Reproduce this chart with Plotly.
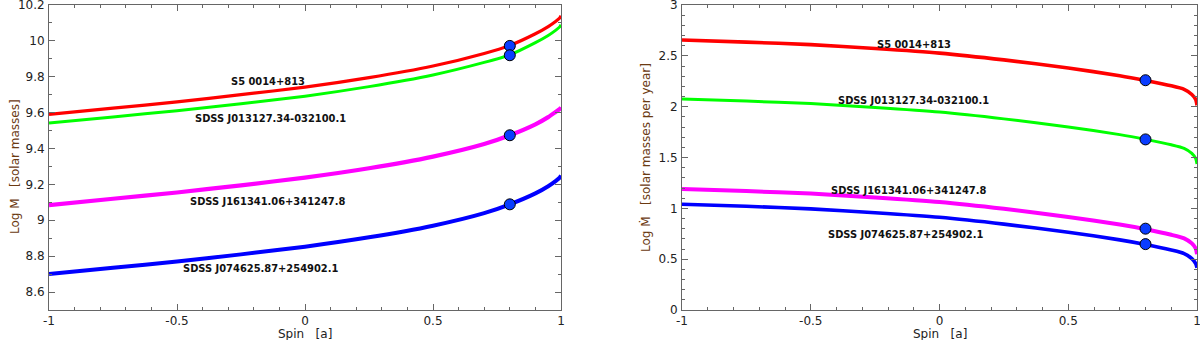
import plotly.graph_objects as go

# ---------------- data ----------------
spin = [-1.0, -0.75, -0.5, -0.25, 0.0, 0.25, 0.5, 0.7, 0.8, 0.9, 0.95, 0.98, 0.995, 1.0]

names = ["S5 0014+813", "SDSS J013127.34-032100.1",
         "SDSS J161341.06+341247.8", "SDSS J074625.87+254902.1"]
colors = ["#ff0000", "#00ff00", "#ff00ff", "#0000ff"]

# Left panel: Log M [solar masses]
mass_s5    = [9.590, 9.625, 9.660, 9.700, 9.742, 9.795, 9.860, 9.930, 9.975, 10.040, 10.080, 10.110, 10.128, 10.140]
mass_j0131 = [9.542, 9.576, 9.611, 9.650, 9.692, 9.745, 9.810, 9.880, 9.922, 9.990, 10.030, 10.060, 10.078, 10.090]
mass_j1613 = [9.085, 9.120, 9.155, 9.195, 9.238, 9.290, 9.355, 9.425, 9.474, 9.535, 9.575, 9.605, 9.620, 9.630]
mass_j0746 = [8.700, 8.735, 8.770, 8.810, 8.853, 8.905, 8.970, 9.040, 9.089, 9.150, 9.190, 9.220, 9.238, 9.250]
mass_series = [mass_s5, mass_j0131, mass_j1613, mass_j0746]

# Right panel: Log Mdot [solar masses per year]
mdot_s5    = [2.655, 2.635, 2.610, 2.572, 2.527, 2.460, 2.380, 2.305, 2.258, 2.205, 2.170, 2.120, 2.070, 2.013]
mdot_j0131 = [2.075, 2.055, 2.030, 1.992, 1.947, 1.880, 1.800, 1.725, 1.678, 1.625, 1.590, 1.540, 1.490, 1.435]
mdot_j1613 = [1.190, 1.170, 1.145, 1.107, 1.062, 0.995, 0.915, 0.840, 0.795, 0.740, 0.705, 0.655, 0.605, 0.548]
mdot_j0746 = [1.040, 1.020, 0.995, 0.957, 0.912, 0.845, 0.765, 0.690, 0.645, 0.590, 0.555, 0.505, 0.455, 0.415]
mdot_series = [mdot_s5, mdot_j0131, mdot_j1613, mdot_j0746]

# Observed points (spin = 0.8)
dot_spin = [0.8, 0.8, 0.8, 0.8]
dot_mass = [9.972, 9.920, 9.474, 9.089]
dot_mdot = [2.260, 1.678, 0.800, 0.648]

# label positions (spin, value)
lab_mass_x = [-0.145, -0.133, -0.148, -0.172]
lab_mass_y = [9.776, 9.568, 9.104, 8.732]
lab_mdot_x = [-0.099, -0.100, -0.121, -0.133]
lab_mdot_y = [2.612, 2.056, 1.174, 0.747]

mass_ticks = [8.6, 8.8, 9.0, 9.2, 9.4, 9.6, 9.8, 10.0, 10.2]
mass_ticktext = ["8.6", "8.8", "9", "9.2", "9.4", "9.6", "9.8", "10", "10.2"]
mdot_ticks = [0, 0.5, 1, 1.5, 2, 2.5, 3]
mdot_ticktext = ["0", "0.5", "1", "1.5", "2", "2.5", "3"]
spin_ticks = [-1, -0.5, 0, 0.5, 1]
spin_ticktext = ["-1", "-0.5", "0", "0.5", "1"]

# ---------------- figure ----------------
W, H = 1200, 340
ML, MR, MT, MB = 0, 0, 5, 30

def px_x(sx):
    return (sx - ML) / (W - ML - MR)

def px_y(sy):
    return 1 - (sy - MT) / (H - MT - MB)

fig = go.Figure()
widths = [3.2, 3.0, 4.2, 4.0]
widths_r = [3.6, 3.0, 4.0, 3.6]

for s, c, w in zip(mass_series, colors, widths):
    fig.add_trace(go.Scatter(x=spin, y=s, mode="lines", xaxis="x", yaxis="y",
                             line=dict(color=c, width=w, shape="spline", smoothing=0.6),
                             showlegend=False, hoverinfo="skip"))
for s, c, w in zip(mdot_series, colors, widths_r):
    fig.add_trace(go.Scatter(x=spin, y=s, mode="lines", xaxis="x2", yaxis="y2",
                             line=dict(color=c, width=w, shape="spline", smoothing=0.6),
                             showlegend=False, hoverinfo="skip"))

marker = dict(color="#0a3dff", size=11, line=dict(color="#000000", width=1))
fig.add_trace(go.Scatter(x=dot_spin, y=dot_mass, mode="markers", xaxis="x", yaxis="y",
                         marker=marker, showlegend=False))
fig.add_trace(go.Scatter(x=dot_spin, y=dot_mdot, mode="markers", xaxis="x2", yaxis="y2",
                         marker=marker, showlegend=False))

label_font = dict(family="DejaVu Sans Condensed, DejaVu Sans", size=11, color="#111111")
annotations = []
for n, x, y in zip(names, lab_mass_x, lab_mass_y):
    annotations.append(dict(x=x, y=y, xref="x", yref="y", text="<b>" + n + "</b>",
                            showarrow=False, font=label_font))
for n, x, y in zip(names, lab_mdot_x, lab_mdot_y):
    annotations.append(dict(x=x, y=y, xref="x2", yref="y2", text="<b>" + n + "</b>",
                            showarrow=False, font=label_font))

title_font = dict(family="DejaVu Sans", size=12, color="#6b3a12")
xt_font = dict(family="DejaVu Sans", size=12, color="#222222")
nb = "\u00a0"
ttl = [
    (15, 167, "Log M" + nb * 3 + "[solar masses]", -90, title_font),
    (645, 158, "Log Ṁ" + nb * 3 + "[solar masses per year]", -90, title_font),
    (305, 334.5, "Spin" + nb * 3 + "[a]", 0, xt_font),
    (940, 334.5, "Spin" + nb * 3 + "[a]", 0, xt_font),
]
for sx, sy, t, ang, f in ttl:
    annotations.append(dict(x=px_x(sx), y=px_y(sy), xref="paper", yref="paper", text=t,
                            textangle=ang, showarrow=False, font=f,
                            xanchor="center", yanchor="middle"))

axis_common = dict(showline=True, linecolor="#666666", linewidth=1, mirror="ticks",
                   ticks="inside", ticklen=6, tickcolor="#666666", showgrid=False,
                   zeroline=False, automargin=False, ticklabeloverflow="allow",
                   tickfont=dict(family="DejaVu Sans", size=12, color="#222222"),
                   minor=dict(ticks="inside", ticklen=3, tickcolor="#666666", dtick=0.1, showgrid=False))

fig.update_layout(
    width=W, height=H,
    margin=dict(l=ML, r=MR, t=MT, b=MB, autoexpand=False),
    paper_bgcolor="white", plot_bgcolor="white",
    xaxis=dict(domain=[px_x(49), px_x(561)], range=[-1, 1], tickvals=spin_ticks, ticktext=spin_ticktext,
               anchor="y", ticklabelstandoff=0, **axis_common),
    yaxis=dict(domain=[0, 1], range=[8.5, 10.2], tickvals=mass_ticks, ticktext=mass_ticktext,
               anchor="x", ticklabelstandoff=1, **axis_common),
    xaxis2=dict(domain=[px_x(682), px_x(1197)], range=[-1, 1], tickvals=spin_ticks, ticktext=spin_ticktext,
                anchor="y2", ticklabelstandoff=0, **axis_common),
    yaxis2=dict(domain=[0, 1], range=[0, 3], tickvals=mdot_ticks, ticktext=mdot_ticktext,
                anchor="x2", ticklabelstandoff=1, **axis_common),
    annotations=annotations,
)

fig.write_html("out.html", config={"displayModeBar": False},
               post_script="document.body.style.margin='0px';")
